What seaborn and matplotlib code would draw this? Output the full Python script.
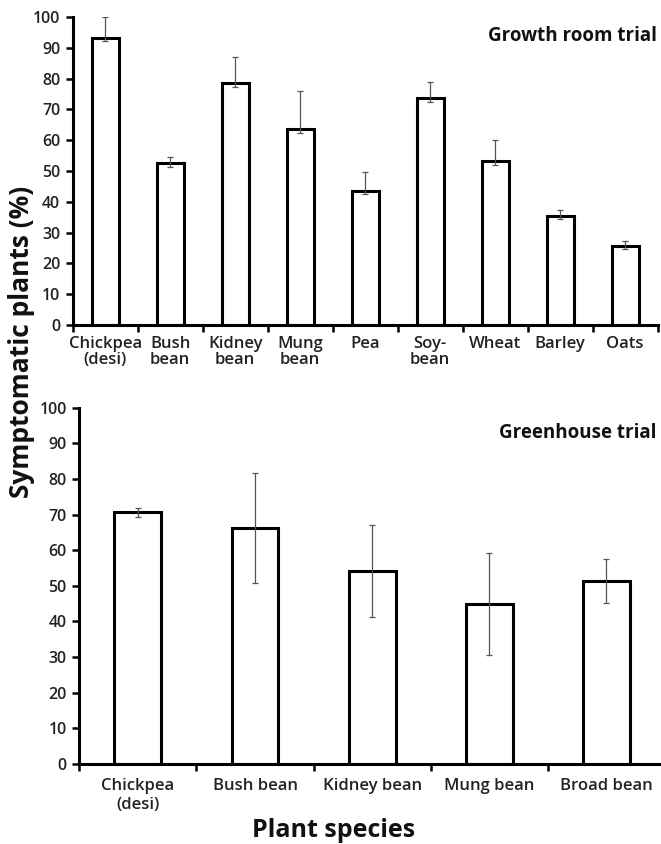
import numpy as np
import pandas as pd
import matplotlib
matplotlib.use("Agg")
import matplotlib.pyplot as plt
import seaborn as sns

# ---- data ----
room_cats = ["Chickpea\n(desi)", "Bush\nbean", "Kidney\nbean", "Mung\nbean", "Pea",
             "Soy-\nbean", "Wheat", "Barley", "Oats"]
room_vals = [93.1, 52.5, 78.5, 63.5, 43.6, 73.6, 53.2, 35.5, 25.6]
room_err_lo = [1.0, 1.1, 1.1, 1.1, 1.2, 1.1, 1.1, 1.1, 0.9]
room_err_hi = [6.9, 2.2, 8.6, 12.6, 6.2, 5.4, 6.8, 1.8, 1.6]

gh_cats = ["Chickpea\n(desi)", "Bush bean", "Kidney bean", "Mung bean", "Broad bean"]
gh_vals = [70.6, 66.3, 54.2, 44.9, 51.4]
gh_err = [1.2, 15.4, 13.0, 14.2, 6.1]

yticks = list(range(0, 101, 10))

# ---- style ----
sns.set_theme(style="white")
plt.rcParams["font.family"] = ["Open Sans", "DejaVu Sans"]
plt.rcParams["font.weight"] = "semibold"

fig = plt.figure(figsize=(6.61, 8.44), dpi=100)
ax1 = fig.add_axes([0.110, 0.6149, 0.885, 0.365])
ax2 = fig.add_axes([0.120, 0.0948, 0.886, 0.4222])


def draw(ax, cats, vals, lo, hi, width, title, title_xy, linesp, pad):
    df = pd.DataFrame({"cat": cats, "val": vals})
    sns.barplot(data=df, x="cat", y="val", color="white", edgecolor="black",
                linewidth=2.2, width=width, ax=ax, saturation=1)
    pos = np.arange(len(cats))
    ax.errorbar(pos, vals, yerr=[lo, hi], fmt="none", ecolor="#555555",
                elinewidth=0.9, capsize=2.2, capthick=0.9, zorder=5)
    n = len(cats)
    ax.set_xlim(-0.5, n - 0.5)
    ax.set_ylim(0, 100)
    ax.set_yticks(yticks)
    ax.set_yticklabels([str(t) for t in yticks], fontsize=11.5, fontweight="semibold",
                       color="#222222")
    ax.set_xticks(pos)
    ax.set_xticklabels(cats, fontsize=12, fontweight="semibold", color="#222222")
    ax.set_xticks(np.arange(n + 1) - 0.5, minor=True)
    ax.tick_params(axis="x", which="major", length=0, pad=pad)
    ax.tick_params(axis="x", which="minor", length=5, width=1.8, direction="out",
                   color="black", bottom=True)
    ax.tick_params(axis="y", which="major", length=5, width=1.8, direction="out",
                   color="black", left=True, pad=4)
    for s in ["top", "right"]:
        ax.spines[s].set_visible(False)
    for s in ["left", "bottom"]:
        ax.spines[s].set_linewidth(2.2)
        ax.spines[s].set_color("black")
    ax.set_xlabel("")
    ax.set_ylabel("")
    ax.text(title_xy[0], title_xy[1], title, transform=ax.transAxes, ha="right",
            va="center", fontsize=13.5, fontweight="bold", color="#111111")
    for lab in ax.get_xticklabels():
        lab.set_linespacing(linesp)


draw(ax1, room_cats, room_vals, room_err_lo, room_err_hi, 0.42,
     "Growth room trial", (0.998, 0.938), 1.0, 8)
draw(ax2, gh_cats, gh_vals, gh_err, gh_err, 0.40,
     "Greenhouse trial", (0.986, 0.929), 1.3, 10)

fig.text(0.032, 0.595, "Symptomatic plants (%)", rotation=90, ha="center", va="center",
         fontsize=19, fontweight="bold", color="#111111")
fig.text(0.504, 0.008, "Plant species", ha="center", va="baseline",
         fontsize=18, fontweight="bold", color="#111111")

fig.savefig("out.png", dpi=100)
